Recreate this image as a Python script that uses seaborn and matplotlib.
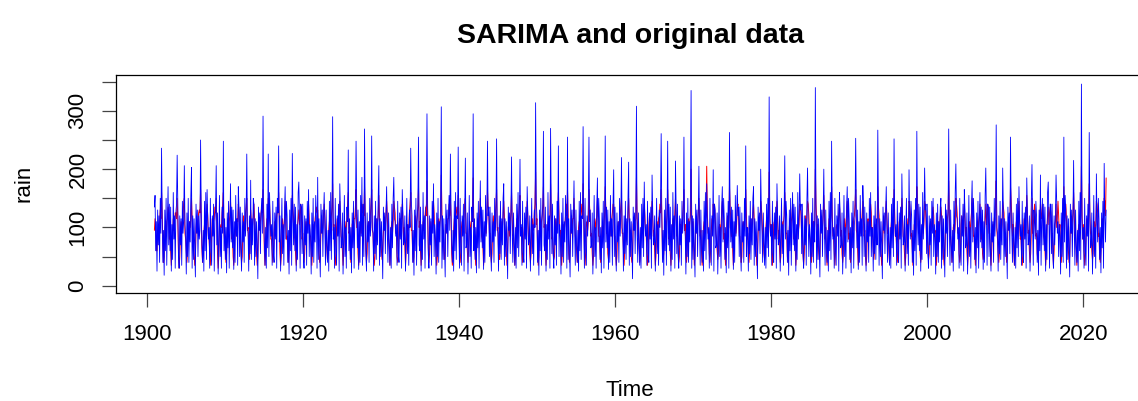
import numpy as np
import pandas as pd
import matplotlib
matplotlib.use('Agg')
import matplotlib.pyplot as plt
import seaborn as sns

#%% data: monthly rain, one row per year (Jan..Dec), 1901-2022
start_year = 1901

rain_obs = [
    [135,155,60,110,25,130,70,120,40,150,90,236],
    [120,40,95,18,130,60,150,35,110,170,70,140],
    [60,135,25,105,45,160,80,120,30,125,140,224],
    [140,55,30,120,70,115,35,145,90,110,206,105],
    [85,20,125,50,150,40,110,75,155,203,30,120],
    [45,115,65,15,140,90,130,50,120,80,95,250],
    [130,70,40,95,25,145,60,160,45,165,115,80],
    [100,30,150,60,35,120,85,140,25,110,130,206],
    [70,125,20,80,155,50,100,30,135,90,248,60],
    [115,45,100,22,125,65,145,30,105,175,75,135],
    [65,130,28,110,40,155,85,115,35,170,135,50],
    [135,60,25,125,75,110,40,150,85,120,226,100],
    [90,25,120,55,181,45,115,70,150,140,35,115],
    [50,110,70,12,135,95,125,55,125,150,90,291],
    [125,75,35,100,30,140,65,226,50,160,110,85],
    [105,35,145,55,40,125,80,135,30,150,125,240],
    [75,120,25,85,150,55,105,35,130,170,80,145],
    [120,40,95,20,130,60,150,35,227,115,70,140],
    [60,135,25,105,45,160,178,120,30,140,135,55],
    [140,55,30,120,70,115,35,145,90,165,50,105],
    [85,20,125,50,150,40,110,75,155,120,30,186],
    [45,115,65,15,140,90,130,50,120,160,95,35],
    [130,70,40,95,25,145,60,160,45,125,290,80],
    [100,30,150,60,35,120,85,140,25,175,130,65],
    [70,125,20,80,155,50,100,30,135,110,233,60],
    [115,45,100,22,125,65,145,30,105,120,248,135],
    [65,130,28,110,40,155,85,186,35,140,50,269],
    [135,60,25,125,75,110,40,150,85,110,257,100],
    [90,25,120,55,145,45,115,70,150,206,35,115],
    [50,110,70,12,135,95,125,55,125,170,90,40],
    [125,75,35,100,30,140,65,150,186,115,110,85],
    [105,35,145,55,40,125,80,135,30,165,125,70],
    [75,120,25,85,150,55,105,35,130,100,236,145],
    [120,40,95,18,130,60,150,35,110,140,255,70],
    [60,135,25,105,45,160,80,120,30,130,140,295],
    [140,55,30,120,70,115,35,145,90,175,50,105],
    [85,20,125,50,150,40,110,75,155,307,30,120],
    [45,115,65,15,140,90,130,50,120,155,95,226],
    [130,70,40,95,25,145,60,160,45,120,115,238],
    [100,30,150,60,35,120,85,140,25,130,219,65],
    [70,125,20,80,155,50,100,30,135,110,295,60],
    [115,45,100,22,125,65,145,30,105,180,75,135],
    [65,130,28,110,40,155,85,115,248,120,135,50],
    [135,60,25,125,75,110,40,150,85,120,252,100],
    [90,25,120,55,145,45,115,70,150,175,35,115],
    [50,110,70,12,135,95,125,55,125,221,90,40],
    [125,75,35,100,30,140,65,160,50,115,217,85],
    [105,35,145,55,40,125,80,135,30,170,125,70],
    [75,120,25,85,150,55,105,35,130,100,314,145],
    [120,40,95,18,130,60,150,35,110,140,265,70],
    [60,135,25,105,45,160,80,120,30,270,140,55],
    [140,55,30,120,70,115,35,145,90,240,50,105],
    [85,20,125,50,150,40,110,75,155,120,30,255],
    [45,115,65,15,140,90,130,50,120,180,95,35],
    [130,70,40,95,25,145,60,160,45,120,115,273],
    [100,30,150,60,35,120,85,140,255,110,130,65],
    [70,125,20,80,155,50,100,30,135,185,75,150],
    [115,45,100,22,125,65,145,30,105,257,75,135],
    [65,130,28,110,40,155,85,115,35,140,199,50],
    [135,60,25,125,75,110,40,150,85,120,220,100],
    [90,25,120,55,145,45,115,70,150,212,35,115],
    [50,110,70,12,135,95,125,55,125,308,90,40],
    [125,75,35,100,30,140,65,150,50,178,110,85],
    [105,35,145,55,40,125,80,135,30,190,125,70],
    [75,120,25,85,150,55,105,35,130,100,145,261],
    [120,40,95,18,130,60,150,35,110,248,70,140],
    [60,135,25,105,45,160,80,120,30,214,140,55],
    [140,55,30,120,70,115,35,145,90,110,255,105],
    [85,20,125,50,150,40,110,75,155,335,30,120],
    [45,115,65,15,140,90,130,50,120,205,95,35],
    [130,70,40,95,25,145,60,160,45,175,115,80],
    [100,30,150,60,35,120,85,199,25,140,130,65],
    [70,125,20,80,155,50,100,30,135,170,75,150],
    [115,45,100,22,125,65,145,30,263,120,75,135],
    [65,130,28,110,40,155,85,115,172,120,135,50],
    [135,60,25,125,75,110,40,150,85,240,50,100],
    [90,25,120,55,145,45,115,70,150,170,35,115],
    [50,110,70,12,135,95,125,55,200,130,90,40],
    [125,75,35,100,30,140,65,150,50,324,110,85],
    [105,35,145,55,40,125,80,135,30,175,125,70],
    [75,120,25,85,150,55,105,35,130,223,80,145],
    [120,40,95,18,130,60,150,35,110,160,70,140],
    [60,135,25,105,45,160,80,120,192,130,140,55],
    [140,55,30,120,70,115,35,145,202,110,50,105],
    [85,20,125,50,150,40,110,75,340,130,30,120],
    [45,115,65,15,140,90,130,50,120,200,95,35],
    [130,70,40,95,25,145,60,160,45,248,115,80],
    [100,30,150,60,35,120,85,140,25,160,130,65],
    [70,125,20,80,155,50,100,30,135,170,75,150],
    [115,45,100,22,125,65,145,30,105,120,253,135],
    [65,130,28,110,40,155,85,115,35,172,135,50],
    [135,60,25,125,75,110,40,150,85,160,50,100],
    [90,25,120,55,145,45,115,70,267,130,35,115],
    [50,110,70,12,135,95,125,55,125,170,90,40],
    [125,75,35,100,30,140,65,150,50,252,110,85],
    [105,35,145,55,40,125,80,135,30,192,125,70],
    [75,120,25,85,150,55,105,35,199,110,80,145],
    [120,40,95,18,130,60,150,35,265,110,70,140],
    [60,135,25,105,45,160,80,120,202,130,140,55],
    [140,55,30,120,70,115,35,145,90,150,50,105],
    [85,20,125,50,140,40,110,75,135,150,30,120],
    [45,115,65,15,140,90,130,50,120,269,95,35],
    [130,70,40,95,25,145,60,160,209,120,115,80],
    [100,30,150,60,35,120,85,140,25,165,130,65],
    [70,125,20,80,155,50,100,30,135,180,75,150],
    [115,45,100,22,125,65,145,30,105,160,75,135],
    [65,130,28,110,40,155,202,115,35,140,135,50],
    [135,60,25,125,75,110,40,150,85,120,276,100],
    [90,25,120,55,145,45,115,70,202,130,35,115],
    [50,110,70,12,135,95,125,55,255,130,90,40],
    [125,75,35,100,30,140,65,150,50,170,110,85],
    [105,35,145,55,40,125,80,135,30,185,125,70],
    [75,120,25,85,150,208,105,35,130,110,80,145],
    [120,40,95,18,130,60,190,35,110,150,70,140],
    [60,135,25,105,45,160,178,120,30,140,140,55],
    [140,55,30,120,70,115,190,145,90,110,50,105],
    [85,20,125,50,150,40,255,75,155,130,30,120],
    [45,115,65,15,140,90,130,50,120,215,95,35],
    [130,70,40,95,25,145,60,160,45,346,115,80],
    [100,30,150,60,35,120,85,140,25,263,130,65],
    [70,125,20,80,155,50,100,30,192,110,75,150],
    [115,45,100,22,125,65,145,30,210,120,75,130],
]

rain_sarima = [
    [95,115,105,60,60,95,80,90,110,130,115,160],
    [125,70,40,50,95,105,85,110,115,135,125,80],
    [85,60,35,55,90,115,95,100,125,125,115,150],
    [110,55,30,50,85,110,90,110,120,140,150,90],
    [80,60,40,60,95,100,110,100,115,150,115,80],
    [85,55,35,50,100,115,90,110,125,130,125,165],
    [115,65,40,55,90,105,95,100,120,140,120,85],
    [80,60,35,60,85,115,90,110,115,135,125,150],
    [105,55,30,50,100,105,100,100,125,140,160,90],
    [75,60,40,55,95,115,90,110,120,145,115,80],
    [85,50,35,60,90,110,85,115,110,140,130,85],
    [80,60,40,50,100,120,95,100,125,135,150,95],
    [100,65,45,65,130,110,90,105,120,140,115,80],
    [80,55,35,50,95,110,95,110,125,135,125,165],
    [120,60,35,55,100,115,105,150,120,140,110,80],
    [80,60,40,55,95,110,85,105,120,130,125,160],
    [115,55,35,50,90,115,90,100,115,145,120,80],
    [85,60,40,60,100,105,95,110,155,130,115,85],
    [80,55,35,50,105,115,130,105,120,140,120,80],
    [90,60,40,55,95,110,90,110,115,140,115,85],
    [85,60,35,60,90,105,90,115,125,135,125,130],
    [100,55,40,50,100,120,90,100,120,140,120,80],
    [85,65,45,60,95,110,95,110,120,135,175,95],
    [105,55,35,50,100,115,90,110,125,145,115,85],
    [80,60,35,55,90,110,95,100,120,140,160,90],
    [95,60,40,60,105,110,85,115,115,135,165,100],
    [100,55,35,50,95,115,90,140,125,135,120,170],
    [120,60,40,55,100,110,95,105,120,140,165,95],
    [90,55,35,50,95,115,90,110,120,155,115,80],
    [85,60,45,60,90,105,95,100,125,145,120,85],
    [80,60,35,55,100,110,90,110,145,135,125,90],
    [90,50,40,50,105,115,85,115,115,140,115,80],
    [100,65,35,60,95,105,95,100,125,140,160,95],
    [95,55,40,50,100,120,90,110,120,135,170,100],
    [110,60,35,55,95,110,95,105,120,135,120,180],
    [125,65,40,55,90,110,90,100,125,145,125,85],
    [80,55,35,50,100,115,95,110,120,190,120,95],
    [95,60,45,60,105,105,90,115,115,140,120,150],
    [115,55,35,50,95,115,85,100,125,135,120,155],
    [110,60,40,55,100,110,95,110,120,140,150,90],
    [90,60,40,60,95,110,90,105,120,135,185,100],
    [110,55,35,50,90,115,95,100,125,150,115,85],
    [80,65,35,55,100,105,90,115,165,135,125,90],
    [90,55,40,55,105,120,95,110,120,140,165,95],
    [100,60,45,50,95,110,90,100,120,145,120,80],
    [85,60,35,60,100,110,85,110,125,160,115,85],
    [90,55,35,50,95,115,95,105,120,140,155,90],
    [100,60,40,60,90,105,90,115,115,145,120,85],
    [80,55,40,55,100,115,95,100,125,140,195,105],
    [115,65,35,50,105,110,90,110,120,135,170,100],
    [105,60,35,55,95,110,95,105,120,175,120,80],
    [85,55,45,50,100,115,85,110,125,160,125,90],
    [95,60,35,55,95,105,95,105,120,140,120,165],
    [120,55,40,60,90,120,90,115,115,150,115,85],
    [80,60,40,50,100,110,90,100,125,140,120,175],
    [125,65,35,55,105,110,95,110,165,135,120,85],
    [90,55,35,50,95,115,95,110,120,150,115,85],
    [85,60,40,55,100,105,90,105,120,170,125,90],
    [95,55,45,60,95,115,85,115,125,140,140,85],
    [85,60,35,50,90,110,95,105,120,135,150,90],
    [90,60,35,60,100,110,90,100,125,150,115,85],
    [95,50,40,50,105,115,95,110,115,185,120,85],
    [110,65,40,55,95,105,90,110,120,140,120,90],
    [85,55,35,55,100,120,95,100,125,145,115,85],
    [95,60,35,50,95,110,85,115,120,140,125,165],
    [120,60,45,55,90,110,90,105,120,165,120,80],
    [90,55,35,60,100,115,95,100,125,150,115,85],
    [90,60,40,50,105,105,90,110,115,140,165,95],
    [105,55,40,60,95,115,95,110,120,200,120,85],
    [110,65,35,55,100,110,90,105,125,150,120,85],
    [95,60,35,50,100,110,95,115,120,205,125,90],
    [90,55,40,60,95,115,90,140,120,140,115,90],
    [80,60,45,55,100,105,85,105,125,145,120,80],
    [90,55,35,55,105,120,95,100,170,135,115,85],
    [95,60,35,60,95,110,90,105,135,140,120,85],
    [85,65,40,50,100,110,95,110,120,165,125,80],
    [100,55,40,60,95,115,90,105,125,140,115,90],
    [90,60,35,50,90,105,95,115,145,135,120,85],
    [80,55,45,55,100,115,85,105,120,195,120,90],
    [105,60,35,60,105,110,90,100,125,145,115,80],
    [95,60,40,50,95,110,95,110,120,160,125,90],
    [90,50,40,60,100,115,90,110,120,140,115,80],
    [95,65,35,55,95,105,95,105,140,135,120,85],
    [90,55,35,55,90,120,90,115,145,140,120,85],
    [80,60,40,60,100,110,85,105,200,140,115,90],
    [105,60,45,50,105,110,95,100,120,155,125,80],
    [100,55,35,55,95,115,90,110,120,170,120,85],
    [85,60,35,60,100,105,95,110,120,140,115,85],
    [95,55,40,55,95,115,90,105,125,145,120,80],
    [90,65,40,60,90,110,95,115,120,140,165,95],
    [90,60,35,55,100,110,90,105,125,145,115,85],
    [95,50,35,50,105,115,85,100,115,140,125,85],
    [100,60,45,60,95,105,95,110,170,135,120,80],
    [90,55,35,55,100,120,90,110,125,145,115,90],
    [95,60,40,60,95,110,95,105,120,165,120,85],
    [90,65,40,55,90,110,90,115,120,150,115,85],
    [80,55,35,50,100,115,95,105,145,140,125,85],
    [90,60,35,60,105,105,85,100,170,140,120,90],
    [105,55,40,55,95,115,90,110,145,135,115,80],
    [85,60,45,55,100,110,95,110,120,135,120,85],
    [95,60,35,60,95,110,90,105,120,135,120,85],
    [90,50,35,50,90,115,95,115,125,180,120,85],
    [85,65,40,60,100,105,90,105,150,140,125,90],
    [90,55,40,55,105,120,95,100,120,140,115,85],
    [100,60,35,55,95,110,85,110,125,150,120,85],
    [85,60,35,60,100,110,90,110,120,140,120,80],
    [95,55,45,50,95,115,140,105,120,140,115,90],
    [90,60,35,60,90,105,95,115,125,140,180,95],
    [80,55,40,55,100,115,90,105,145,135,125,85],
    [90,65,40,55,105,110,95,100,170,145,120,85],
    [105,60,35,60,95,110,90,110,120,145,115,80],
    [85,55,35,50,100,115,95,110,120,155,120,90],
    [95,60,40,55,95,150,90,105,125,140,120,85],
    [90,55,45,60,90,105,140,115,120,140,115,85],
    [80,60,35,55,100,120,135,105,125,135,125,80],
    [90,65,35,60,105,110,140,100,120,145,120,90],
    [105,55,40,55,95,110,170,110,120,140,115,85],
    [85,60,40,50,100,115,90,110,125,160,125,85],
    [95,55,35,60,95,105,95,105,120,205,120,80],
    [105,60,35,55,90,115,90,115,125,175,120,90],
    [85,60,45,55,100,110,95,105,145,140,125,85],
    [90,50,40,60,105,115,90,105,150,145,120,185],
]

obs = np.array(rain_obs, dtype=float).ravel()
fit = np.array(rain_sarima, dtype=float).ravel()
df = pd.DataFrame({'Time': start_year + np.arange(len(obs)) / 12,
                   'original': obs, 'sarima': fit})

#%% figure
sns.set_style('ticks')
plt.rcParams['font.family'] = ['Liberation Sans', 'DejaVu Sans']
plt.rcParams['text.color'] = 'black'
plt.rcParams['axes.labelcolor'] = 'black'

fig = plt.figure(figsize=(11.38, 4.01), dpi=100)
ax = fig.add_axes([0.1022, 0.270, 0.9033, 0.543])

sns.lineplot(data=df, x='Time', y='sarima', color='#ff0000', lw=0.7,
             estimator=None, ax=ax)
sns.lineplot(data=df, x='Time', y='original', color='#0000ff', lw=0.6,
             estimator=None, ax=ax)

ax.set_xlim(1896.12, 2027.8)
ax.set_ylim(-12, 361.6)
ax.set_xticks(range(1900, 2021, 20))
yt = list(range(0, 351, 50))
ax.set_yticks(yt)
ax.set_yticklabels([str(v) if v % 100 == 0 else '' for v in yt])

for s in ax.spines.values():
    s.set_color('black')
    s.set_linewidth(0.9)
ax.spines['right'].set_visible(False)

ax.tick_params(axis='both', direction='out', length=10, width=0.9,
               colors='#444444', labelcolor='black', labelsize=16)
ax.tick_params(axis='x', pad=12.5)
ax.tick_params(axis='y', pad=10)
plt.setp(ax.get_yticklabels(), rotation=90, va='center')

ax.set_xlabel('Time', fontsize=16)
ax.set_ylabel('rain', fontsize=16)
ax.xaxis.set_label_coords(0.5, -0.40)
ax.yaxis.set_label_coords(-0.080, 0.5)
ax.set_title('SARIMA and original data', fontsize=20.5, fontweight='bold',
             color='black', pad=23)

fig.savefig('out.png', dpi=100, facecolor='w')
